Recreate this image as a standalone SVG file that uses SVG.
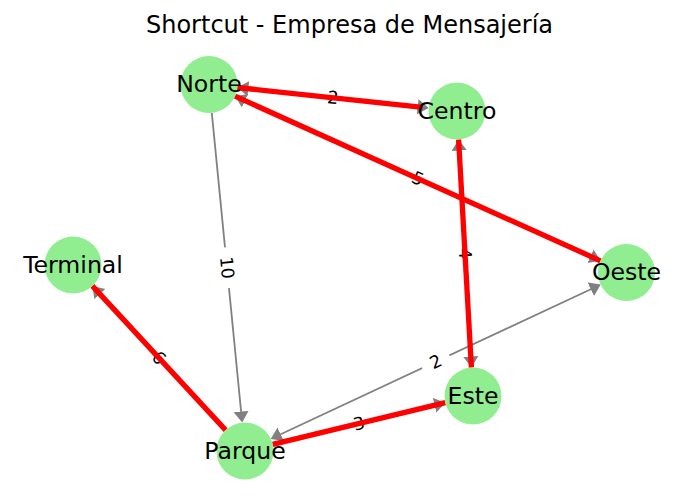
<svg xmlns="http://www.w3.org/2000/svg" width="698" height="504" viewBox="0 0 698 504">
<style>
.g{stroke:#808080;stroke-width:1.8;fill:none;marker-end:url(#ah)}
.gb{marker-start:url(#ah)}
.r{stroke:#ff0000;stroke-width:5.3;fill:none}
.lb{fill:#ffffff;stroke:#ffffff}
.el{font-family:"DejaVu Sans",sans-serif;font-size:17.5px;text-anchor:middle;fill:#000}
.nc{fill:#90ee90}
.nl{font-family:"DejaVu Sans",sans-serif;font-size:23.6px;text-anchor:middle;fill:#000}
.t{font-family:"DejaVu Sans",sans-serif;font-size:24px;text-anchor:middle;fill:#000}
</style>
<defs>
<marker id="ah" markerUnits="userSpaceOnUse" viewBox="0 -8 12 16" markerWidth="12" markerHeight="16" refX="3" refY="0" orient="auto-start-reverse">
<path d="M0,-7.5 L11,0 L0,7.5 Z" fill="#808080"/>
</marker>
</defs>
<rect width="698" height="504" fill="#ffffff"/>
<text class="t" x="349.5" y="33">Shortcut - Empresa de Mensajería</text>
<g id="connectors">
<g id="gray-edges">
<line class="g gb" x1="245.3" y1="88.4" x2="420.7" y2="107.1"/>
<line class="g gb" x1="242.3" y1="99.5" x2="593.2" y2="257.5"/>
<line class="g gb" x1="459.0" y1="147.5" x2="471.0" y2="359.5"/>
<line class="g" x1="211.8" y1="112.9" x2="241.4" y2="414.6"/>
<line class="g" x1="225.65" y1="430.1" x2="97.8" y2="291.8"/>
<line class="g gb" x1="278.0" y1="435.5" x2="593.5" y2="288.0"/>
<line class="g" x1="272.7" y1="444.3" x2="437.5" y2="404.6"/>
</g>
<g id="edge-labels">
<g transform="translate(333,97.75) rotate(6.1)"><rect class="lb" x="-14.5" y="-13" width="29" height="26" rx="4"/><text class="el" x="0" y="6">2</text></g>
<g transform="translate(417.75,178.5) rotate(24.2)"><rect class="lb" x="-14.5" y="-13" width="29" height="26" rx="4"/><text class="el" x="0" y="6">5</text></g>
<g transform="translate(465,253.5) rotate(86.8)"><rect class="lb" x="-14.5" y="-13" width="29" height="26" rx="4"/><text class="el" x="0" y="6">4</text></g>
<g transform="translate(227,267.75) rotate(84.4)"><rect class="lb" x="-20" y="-13" width="40" height="26" rx="4"/><text class="el" x="0" y="6">10</text></g>
<g transform="translate(159,358) rotate(47.2)"><rect class="lb" x="-14.5" y="-13" width="29" height="26" rx="4"/><text class="el" x="0" y="6">6</text></g>
<g transform="translate(435.75,361.75) rotate(-25.1)"><rect class="lb" x="-14.5" y="-13" width="29" height="26" rx="4"/><text class="el" x="0" y="6">2</text></g>
<g transform="translate(359,423.5) rotate(-13.6)"><rect class="lb" x="-14.5" y="-13" width="29" height="26" rx="4"/><text class="el" x="0" y="6">3</text></g>
</g>
<g id="red-edges">
<line class="r" x1="422.7" y1="107.4" x2="237.3" y2="87.5"/>
<line class="r" x1="235.0" y1="96.2" x2="600.5" y2="260.8"/>
<line class="r" x1="458.6" y1="139.5" x2="471.4" y2="367.5"/>
<line class="r" x1="225.65" y1="430.1" x2="92.35" y2="285.9"/>
<line class="r" x1="272.7" y1="444.3" x2="445.3" y2="402.7"/>
</g>
</g>
<g id="node-Norte"><circle class="nc" cx="209" cy="84.5" r="28.5"/><text class="nl" x="209" y="92">Norte</text></g>
<g id="node-Centro"><circle class="nc" cx="457" cy="111" r="28.5"/><text class="nl" x="457" y="118.5">Centro</text></g>
<g id="node-Terminal"><circle class="nc" cx="73" cy="265" r="28.5"/><text class="nl" x="73" y="272.5">Terminal</text></g>
<g id="node-Oeste"><circle class="nc" cx="626.5" cy="272.5" r="28.5"/><text class="nl" x="626.5" y="280">Oeste</text></g>
<g id="node-Este"><circle class="nc" cx="473" cy="396" r="28.5"/><text class="nl" x="473" y="403.5">Este</text></g>
<g id="node-Parque"><circle class="nc" cx="245" cy="451" r="28.5"/><text class="nl" x="245" y="458.5">Parque</text></g>
</svg>
